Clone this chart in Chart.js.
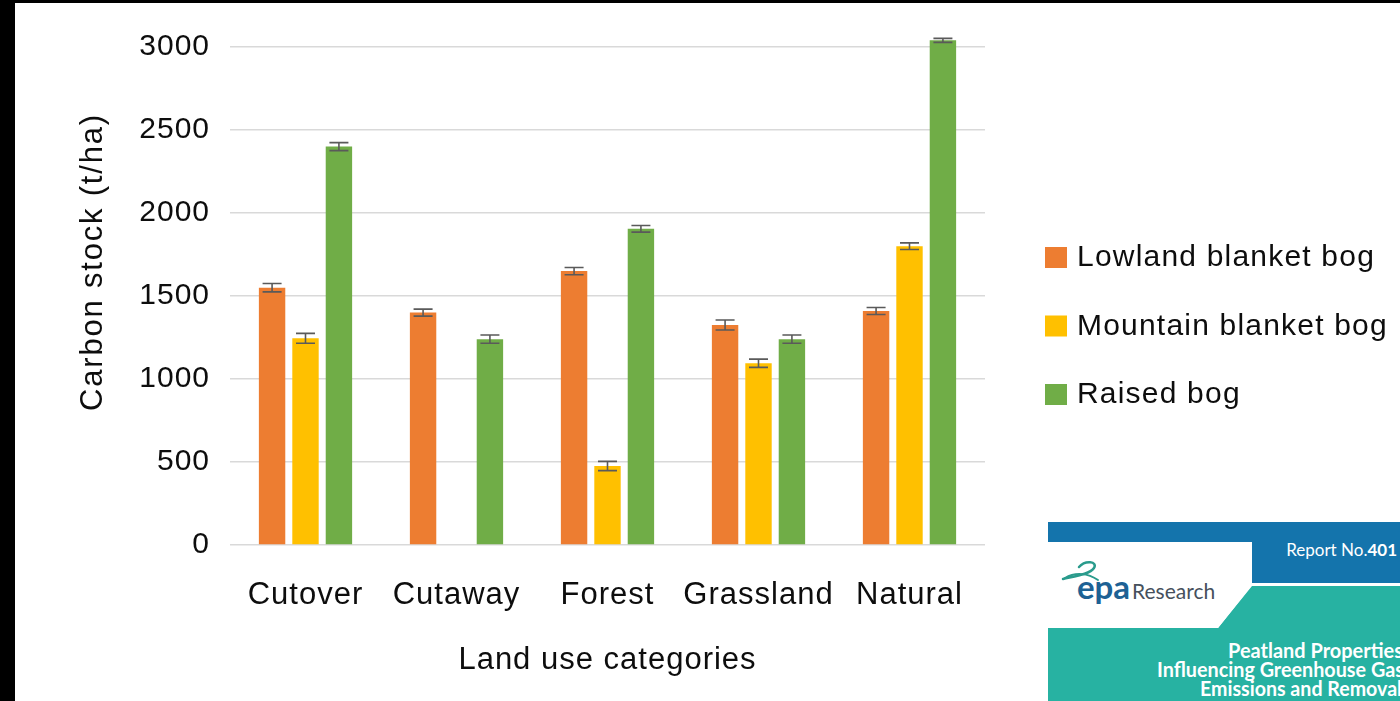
<!DOCTYPE html>
<html>
<head>
<meta charset="utf-8">
<title>Carbon stock by land use</title>
<script src="https://cdn.jsdelivr.net/npm/chart.js@4.4.1/dist/chart.umd.min.js"></script>
<style>
  html, body { margin: 0; padding: 0; background: #000; overflow: hidden; }
  #folha { position: absolute; left: 15px; top: 3px; width: 1385px; height: 698px; background: #fff; overflow: hidden; }
  #grafico { position: absolute; left: 0; top: 0; }
  #capa { position: absolute; left: 1033px; top: 519px; }
</style>
</head>
<body>
<div id="folha">
  <canvas id="grafico" width="1385" height="698"></canvas>

  <!-- capa do relatório no canto -->
  <svg id="capa" width="352" height="179" viewBox="0 0 352 179">
    <rect x="0" y="0" width="352" height="179" fill="#fff"/>
    <rect x="0" y="0" width="352" height="61" fill="#1474ac"/>
    <polygon points="0,106 170,106 204,64 352,64 352,179 0,179" fill="#27b2a2"/>
    <polygon points="0,20 204,20 204,63 170,106 0,106" fill="#fff"/>
    <text x="349" y="34" text-anchor="end" font-family="Lato, 'Open Sans', sans-serif" font-size="17" fill="#fff">Report No.<tspan font-weight="bold">401</tspan></text>
    <path d="M31,45 C37,38 50,39 46,46 C42,52 28,54 15,57" fill="none" stroke="#2a9b8c" stroke-width="2.5" stroke-linecap="round"/>
    <path d="M17,56 C27,50 40,51 50,58" fill="none" stroke="#2a9b8c" stroke-width="2" stroke-linecap="round"/>
    <text x="29" y="77" font-family="Lato, sans-serif" font-size="33" font-weight="bold" fill="#1d6194">epa</text>
    <text x="84" y="77" font-family="Lato, sans-serif" font-size="21" fill="#46505c">Research</text>
    <g font-family="Lato, 'Open Sans', sans-serif" font-size="21" font-weight="bold" fill="#fff" text-anchor="end">
      <text x="355" y="136" textLength="175" lengthAdjust="spacingAndGlyphs">Peatland Properties</text>
      <text x="356" y="155" textLength="247" lengthAdjust="spacingAndGlyphs">Influencing Greenhouse Gas</text>
      <text x="354" y="174" textLength="202" lengthAdjust="spacingAndGlyphs">Emissions and Removal</text>
    </g>
  </svg>
</div>

<script>
// categorias de uso do solo e estoque de carbono (t/ha) por tipo de turfeira
const categorias = ['Cutover', 'Cutaway', 'Forest', 'Grassland', 'Natural'];
const lowland = [1550, 1400, 1650, 1325, 1410];
const mountain = [1245, null, 476, 1095, 1800];
const raised = [2400, 1240, 1905, 1240, 3040];
// erro padrão de cada barra
const erroLowland = [25, 21, 22, 30, 21];
const erroMountain = [30, null, 28, 25, 20];
const erroRaised = [24, 25, 20, 25, 12];
const ticksY = [0, 500, 1000, 1500, 2000, 2500, 3000];

const fonte = '"Liberation Sans", Arial, sans-serif';
const corTexto = '#0d0d0d';

// espaçamento entre letras, depois que o Chart.js prepara o canvas
const espacamento = {
  id: 'espacamento',
  afterInit(chart) {
    chart.ctx.letterSpacing = '1px';
  }
};

// barras de erro desenhadas sobre cada coluna
const barrasErro = {
  id: 'barrasErro',
  afterDatasetsDraw(chart) {
    const ctx = chart.ctx;
    const escalaY = chart.scales.y;
    ctx.save();
    ctx.strokeStyle = '#5a5a5a';
    ctx.lineWidth = 1.6;
    chart.data.datasets.forEach((ds, i) => {
      const meta = chart.getDatasetMeta(i);
      meta.data.forEach((barra, j) => {
        const valor = ds.data[j];
        const erro = ds.erro[j];
        if (valor == null || erro == null) return;
        const x = barra.x;
        const topo = escalaY.getPixelForValue(valor + erro);
        const base = escalaY.getPixelForValue(valor - erro);
        ctx.beginPath();
        ctx.moveTo(x, topo); ctx.lineTo(x, base);
        ctx.moveTo(x - 9.5, topo); ctx.lineTo(x + 9.5, topo);
        ctx.moveTo(x - 9.5, base); ctx.lineTo(x + 9.5, base);
        ctx.stroke();
      });
    });
    ctx.restore();
  }
};

// título do eixo Y e legenda à direita
const textosExtras = {
  id: 'textosExtras',
  afterDraw(chart) {
    const ctx = chart.ctx;
    ctx.save();
    ctx.fillStyle = corTexto;
    ctx.letterSpacing = '1.8px';
    ctx.font = '31px ' + fonte;
    ctx.translate(78, 259);
    ctx.rotate(-Math.PI / 2);
    ctx.textAlign = 'center';
    ctx.textBaseline = 'middle';
    ctx.fillText('Carbon stock (t/ha)', 0, 0);
    ctx.restore();

    ctx.save();
    ctx.letterSpacing = '1.2px';
    ctx.font = '30px ' + fonte;
    ctx.textBaseline = 'alphabetic';
    chart.data.datasets.forEach((ds, i) => {
      const linha = 263 + i * 68.5;
      ctx.fillStyle = ds.backgroundColor;
      ctx.fillRect(1030, linha - 19, 22, 21);
      ctx.fillStyle = corTexto;
      ctx.fillText(ds.label, 1062, linha);
    });
    ctx.restore();
  }
};

const ctx = document.getElementById('grafico').getContext('2d');

new Chart(ctx, {
  type: 'bar',
  data: {
    labels: categorias,
    datasets: [
      { label: 'Lowland blanket bog', data: lowland, erro: erroLowland, backgroundColor: '#ED7D31', clip: false },
      { label: 'Mountain blanket bog', data: mountain, erro: erroMountain, backgroundColor: '#FFC000', clip: false },
      { label: 'Raised bog', data: raised, erro: erroRaised, backgroundColor: '#70AD47', clip: false }
    ]
  },
  options: {
    responsive: false,
    animation: false,
    categoryPercentage: 0.664,
    barPercentage: 0.79,
    layout: {
      padding: { top: 44, right: 415, bottom: 0, left: 0 }
    },
    plugins: {
      legend: { display: false },
      tooltip: { enabled: false }
    },
    scales: {
      x: {
        grid: { display: false },
        border: { display: false },
        ticks: {
          color: corTexto,
          padding: 24,
          autoSkip: false,
          maxRotation: 0,
          minRotation: 0,
          font: { family: fonte, size: 31 }
        },
        title: {
          display: true,
          text: 'Land use categories',
          color: corTexto,
          padding: { top: 0, bottom: 22 },
          font: { family: fonte, size: 31 }
        },
        afterFit(escala) { escala.height = 156; }
      },
      y: {
        min: 0,
        max: 3000,
        grid: { color: '#d9d9d9', lineWidth: 1.6, drawTicks: false },
        border: { display: false },
        ticks: {
          color: corTexto,
          padding: 20,
          font: { family: fonte, size: 30 },
          callback: valor => String(valor)
        },
        afterBuildTicks(escala) {
          escala.ticks = ticksY.map(v => ({ value: v }));
        },
        afterFit(escala) { escala.width = 215; }
      }
    }
  },
  plugins: [espacamento, barrasErro, textosExtras]
});
</script>
</body>
</html>
